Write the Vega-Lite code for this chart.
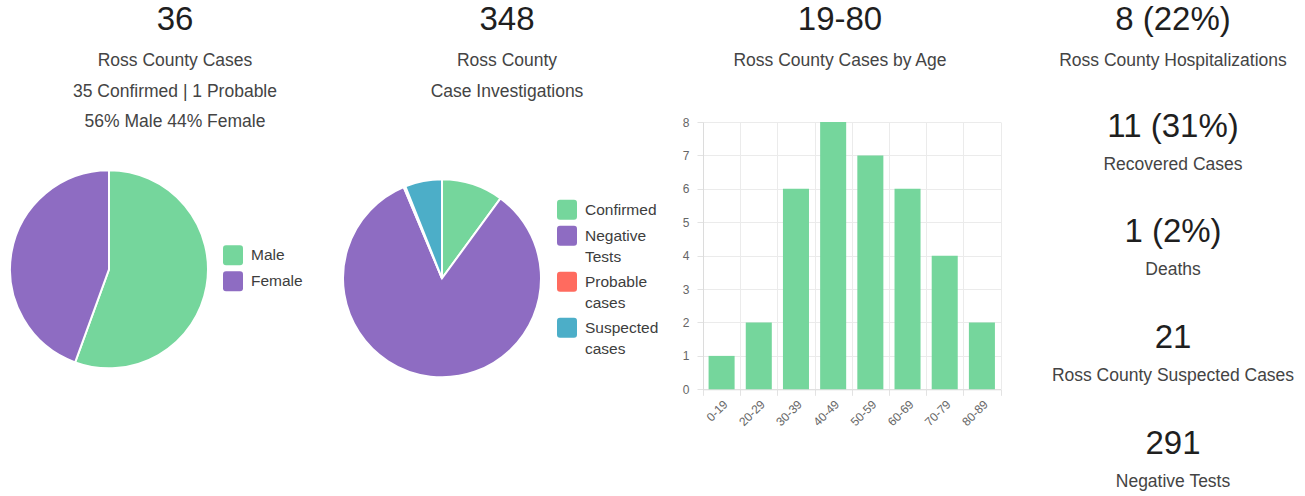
{
  "$schema": "https://vega.github.io/schema/vega-lite/v6.json",
  "background": "white",
  "padding": {"left": 6, "top": 4, "right": 5, "bottom": 5},
  "bounds": "flush",
  "spacing": 162,
  "resolve": {"scale": {"color": "independent"}, "legend": {"color": "independent"}},
  "config": {
    "font": "Liberation Sans",
    "view": {"stroke": null},
    "style": {"guide-label": {"lineHeight": 21}},
    "title": {
      "fontSize": 33,
      "fontWeight": "normal",
      "color": "#1f1f1f",
      "subtitleFontSize": 17.5,
      "subtitleColor": "#444444",
      "subtitleLineHeight": 30.5,
      "subtitlePadding": 15,
      "baseline": "top",
      "anchor": "middle",
      "frame": "group"
    },
    "legend": {
      "symbolType": "M-0.7,-1H0.7Q1,-1 1,-0.7V0.7Q1,1 0.7,1H-0.7Q-1,1 -1,0.7V-0.7Q-1,-1 -0.7,-1Z",
      "symbolSize": 400,
      "symbolStrokeWidth": 0,
      "symbolOpacity": 1,
      "labelFontSize": 15.5,
      "labelColor": "#3d3d3d",
      "labelOffset": 8,
      "rowPadding": 6,
      "padding": 0,
      "labelBaseline": "middle",
      "labelLimit": 300
    },
    "axis": {
      "labelFontSize": 12,
      "labelColor": "#666666",
      "gridColor": "#ebebeb",
      "domainColor": "#dcdcdc",
      "tickColor": "#e3e3e3",
      "tickSize": 6
    }
  },
  "hconcat": [
    {
      "width": 144,
      "height": 294.6,
      "title": {
        "text": "36",
        "subtitle": ["Ross County Cases", "35 Confirmed | 1 Probable", "56% Male 44% Female"],
        "dx": 66,
        "offset": -8.8
      },
      "data": {"values": [
        {"sex": "Male", "count": 20},
        {"sex": "Female", "count": 16}
      ]},
      "mark": {"type": "arc", "outerRadius": 99, "stroke": "#ffffff", "strokeWidth": 2},
      "encoding": {
        "theta": {"field": "count", "type": "quantitative", "stack": true},
        "order": {"field": "sex", "sort": "descending"},
        "color": {
          "field": "sex",
          "type": "nominal",
          "scale": {"domain": ["Male", "Female"], "range": ["#75d69c", "#8e6cc2"]},
          "legend": {
            "title": null,
            "orient": "none",
            "legendX": 186,
            "legendY": 123.3
          }
        }
      }
    },
    {
      "width": 198,
      "height": 312.6,
      "title": {
        "text": "348",
        "subtitle": ["Ross County", "Case Investigations", ""],
        "dx": 65,
        "offset": -8.8
      },
      "data": {"values": [
        {"category": "Confirmed", "count": 35},
        {"category": "Negative Tests", "count": 291},
        {"category": "Probable cases", "count": 1},
        {"category": "Suspected cases", "count": 21}
      ]},
      "mark": {"type": "arc", "outerRadius": 99, "stroke": "#ffffff", "strokeWidth": 2},
      "encoding": {
        "theta": {"field": "count", "type": "quantitative", "stack": true},
        "order": {"field": "category", "sort": "ascending"},
        "color": {
          "field": "category",
          "type": "nominal",
          "scale": {
            "domain": ["Confirmed", "Negative Tests", "Probable cases", "Suspected cases"],
            "range": ["#75d69c", "#8e6cc2", "#ff6b5f", "#4caec8"]
          },
          "legend": {
            "title": null,
            "orient": "none",
            "legendX": 214,
            "legendY": 77.8,
            "labelExpr": "split(datum.label, ' ')"
          }
        }
      }
    },
    {
      "width": 305,
      "height": 267.3,
      "title": {
        "text": "19-80",
        "subtitle": ["Ross County Cases by Age", "", ""],
        "dx": -15.5,
        "offset": -14.8
      },
      "data": {"values": [
        {"age": "0-19", "cases": 1},
        {"age": "20-29", "cases": 2},
        {"age": "30-39", "cases": 6},
        {"age": "40-49", "cases": 8},
        {"age": "50-59", "cases": 7},
        {"age": "60-69", "cases": 6},
        {"age": "70-79", "cases": 4},
        {"age": "80-89", "cases": 2}
      ]},
      "mark": {"type": "bar", "width": {"band": 0.7}, "color": "#75d69c"},
      "encoding": {
        "x": {
          "field": "age",
          "type": "ordinal",
          "sort": null,
          "scale": {"paddingInner": 0, "paddingOuter": 0, "range": [0, 297.5]},
          "axis": {"title": null, "labelAngle": -45, "tickBand": "extent", "grid": true, "labelPadding": 3}
        },
        "y": {
          "field": "cases",
          "type": "quantitative",
          "scale": {"domain": [0, 8], "nice": false},
          "axis": {"title": null, "tickCount": 8, "grid": true, "labelPadding": 8}
        }
      }
    },
    {
      "width": 6,
      "height": 364.7,
      "title": {
        "text": "8 (22%)",
        "subtitle": ["Ross County Hospitalizations", "", ""],
        "offset": -20
      },
      "data": {"values": [
        {"rank": 1, "value": "11 (31%)", "label": "Recovered Cases"},
        {"rank": 2, "value": "1 (2%)", "label": "Deaths"},
        {"rank": 3, "value": "21", "label": "Ross County Suspected Cases"},
        {"rank": 4, "value": "291", "label": "Negative Tests"}
      ]},
      "encoding": {
        "y": {"field": "rank", "type": "ordinal", "scale": {"type": "point", "padding": 0.225}, "axis": null}
      },
      "layer": [
        {
          "mark": {"type": "text", "fontSize": 33, "dy": -19, "color": "#1f1f1f", "baseline": "middle", "align": "center"},
          "encoding": {"text": {"field": "value"}}
        },
        {
          "mark": {"type": "text", "fontSize": 17.5, "dy": 19, "color": "#444444", "baseline": "middle", "align": "center"},
          "encoding": {"text": {"field": "label"}}
        }
      ]
    }
  ]
}
